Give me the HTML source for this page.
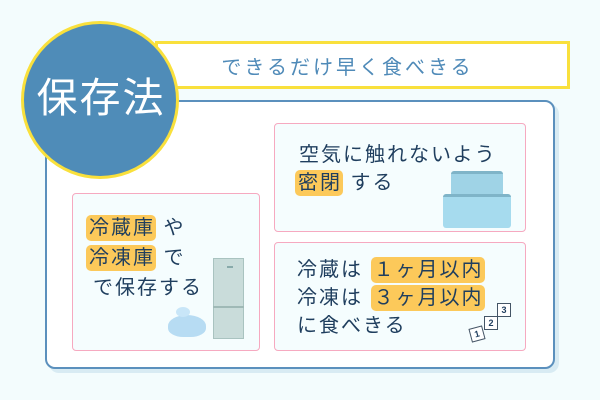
<!DOCTYPE html><html><head><meta charset="utf-8"><style>
body{margin:0;width:600px;height:400px;background:#f3fcfd;position:relative;overflow:hidden;font-family:"Liberation Sans","Noto Sans CJK JP",sans-serif;color:#1f3e5e}
.a{position:absolute}
.hl{display:inline-block;background:#fcc95a;border-radius:5px;padding:0 1px 0 3px;line-height:26px}
.t{font-size:20px;line-height:28px;white-space:nowrap;letter-spacing:2px}
.box{position:absolute;background:#f5fdfe;border:1.5px solid #f6a9c0;border-radius:4px;box-sizing:border-box}
</style></head><body>
<div class="a" style="left:49px;top:104px;width:510px;height:269px;background:#d8ebf3;border-radius:10px"></div>
<div class="a" style="left:45px;top:100px;width:510px;height:269px;background:#fff;border:2px solid #5b90bd;border-radius:10px;box-sizing:border-box"></div>
<div class="a" style="left:155px;top:41px;width:415px;height:48px;background:#fff;border:3px solid #f9e03c;box-sizing:border-box"></div>
<div class="a" style="left:180px;top:55px;width:335px;text-align:center;font-size:20px;line-height:26px;color:#4f8ab8;letter-spacing:3px">できるだけ早く食べきる</div>
<div class="a" style="left:21px;top:21px;width:158px;height:158px;border-radius:50%;background:#4f8cb8;border:3px solid #f9e03c;box-sizing:border-box"></div>
<div class="a" style="left:21px;top:73px;width:158px;text-align:center;color:#fff;font-size:41px;line-height:50px;letter-spacing:2px;text-indent:2px">保存法</div>
<div class="box" style="left:72px;top:193px;width:188px;height:158px"></div>
<div class="box" style="left:274px;top:123px;width:252px;height:109px"></div>
<div class="box" style="left:274px;top:242px;width:252px;height:109px"></div>
<div class="a t" style="left:86px;top:214px"><span class="hl">冷蔵庫</span> や</div>
<div class="a t" style="left:86px;top:244px"><span class="hl">冷凍庫</span> で</div>
<div class="a t" style="left:93px;top:274px">で保存する</div>
<div class="a t" style="left:299px;top:141px">空気に触れないよう</div>
<div class="a t" style="left:295px;top:169px"><span class="hl">密閉</span> する</div>
<div class="a t" style="left:297px;top:256px">冷蔵は <span class="hl">１ヶ月以内</span></div>
<div class="a t" style="left:297px;top:284px">冷凍は <span class="hl">３ヶ月以内</span></div>
<div class="a t" style="left:297px;top:312px">に食べきる</div>
<!-- fridge -->
<div class="a" style="left:213px;top:258px;width:31px;height:81px;background:#c9dcda;border:1px solid #a9c3c0;box-sizing:border-box"></div>
<div class="a" style="left:213px;top:306px;width:31px;height:2px;background:#9fb9b6"></div>
<div class="a" style="left:227px;top:266px;width:6px;height:2px;background:#8aa"></div>
<!-- ice bag -->
<div class="a" style="left:168px;top:315px;width:38px;height:22px;background:#b7dcf3;border-radius:50% 50% 40% 40%"></div>
<div class="a" style="left:176px;top:307px;width:14px;height:10px;background:#c8e6f8;border-radius:50%"></div>
<!-- containers -->
<div class="a" style="left:451px;top:171px;width:52px;height:28px;background:#9fd3e6;border-top:3px solid #7fb4c8;border-radius:3px"></div>
<div class="a" style="left:443px;top:194px;width:68px;height:31px;background:#a6dbee;border-top:3px solid #7fb4c8;border-radius:3px"></div>
<!-- calendar -->
<div class="a" style="left:470px;top:327px;width:12px;height:12px;background:#fff;border:1px solid #456;transform:rotate(-15deg);font-size:9px;font-weight:bold;text-align:center;line-height:12px">1</div>
<div class="a" style="left:484px;top:316px;width:12px;height:12px;background:#fff;border:1px solid #456;font-size:9px;font-weight:bold;text-align:center;line-height:12px">2</div>
<div class="a" style="left:497px;top:303px;width:12px;height:12px;background:#fff;border:1px solid #456;font-size:9px;font-weight:bold;text-align:center;line-height:12px">3</div>
</body></html>
